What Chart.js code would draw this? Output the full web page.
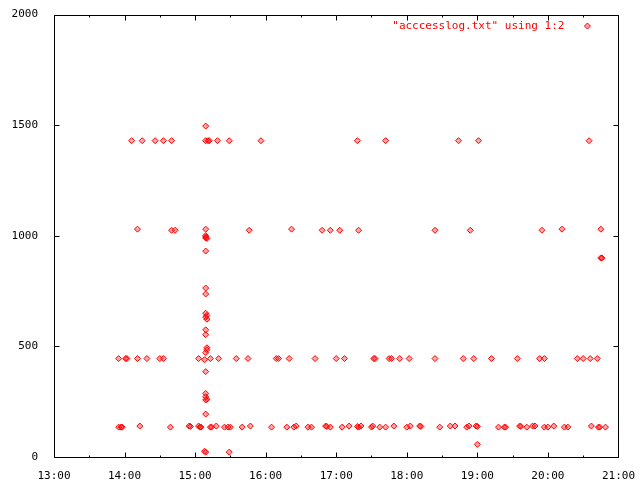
<!DOCTYPE html>
<html><head><meta charset="utf-8">
<script src="https://cdn.jsdelivr.net/npm/chart.js@4/dist/chart.umd.min.js"></script>
<style>html,body{margin:0;padding:0;background:#fff}#wrap{width:640px;height:480px}</style>
</head><body><div id="wrap"><canvas id="c" width="640" height="480"></canvas></div>
<script>
const seriesLabel = '"acccesslog.txt" using 1:2';
const xTickLabels = ['13:00','14:00','15:00','16:00','17:00','18:00','19:00','20:00','21:00'];
const yTickValues = [0, 500, 1000, 1500, 2000];

// band near 1430
const timesTop = ['14:06','14:15','14:26','14:33','14:40','15:09','15:11','15:12','15:19','15:29','15:56','17:18','17:42','18:44','19:01','20:35','15:09'];
const valuesTop = [1430,1430,1430,1430,1430,1430,1430,1430,1430,1430,1430,1430,1430,1430,1430,1430,1496];

// band near 1025
const timesK = ['14:11','14:40','14:43','15:09','15:46','16:22','16:48','16:55','17:03','17:19','18:24','18:54','19:55','20:12','20:45','20:45','20:46'];
const valuesK = [1030,1025,1025,1030,1025,1030,1025,1025,1025,1025,1025,1025,1025,1030,1030,900,900];

// vertical cluster around 15:09
const timesV = ['15:09','15:09','15:09','15:10','15:09','15:09','15:09','15:09','15:10','15:09','15:10','15:09','15:09','15:10','15:10','15:09','15:09','15:09','15:09','15:10','15:09','15:09','15:08','15:09','15:29','19:00'];
const valuesV = [1001,995,990,988,931,764,737,650,640,632,623,575,553,494,485,472,386,287,272,261,258,194,26,22,22,57];

// band near 445
const timesM = ['13:55','14:01','14:02','14:11','14:19','14:30','14:33','15:03','15:08','15:13','15:20','15:35','15:45','16:09','16:11','16:20','16:42','17:00','17:07','17:32','17:33','17:45','17:47','17:54','18:02','18:24','18:48','18:57','19:12','19:34','19:53','19:57','20:25','20:30','20:36','20:42'];
const valuesM = [445,445,445,445,445,445,445,445,440,445,445,445,445,445,445,445,445,445,445,445,445,445,445,445,445,445,445,445,445,445,445,445,445,445,445,445];

// band near 135
const timesB = ['13:55','13:57','13:58','14:13','14:39','14:55','14:56','15:03','15:04','15:05','15:13','15:14','15:18','15:25','15:28','15:30','15:40','15:47','16:05','16:18','16:24','16:26','16:36','16:39','16:51','16:52','16:55','17:05','17:11','17:18','17:19','17:21','17:30','17:31','17:37','17:42','17:49','18:00','18:03','18:11','18:12','18:28','18:37','18:41','18:51','18:53','18:59','19:00','19:18','19:23','19:24','19:36','19:37','19:42','19:47','19:49','19:57','20:00','20:05','20:14','20:17','20:37','20:43','20:44','20:49'];
const valuesB = [135,135,135,140,135,140,138,140,135,135,135,135,140,135,135,135,135,140,135,135,135,140,135,135,140,138,135,135,140,138,135,140,135,140,135,135,140,135,140,140,138,135,140,140,135,140,140,138,135,135,135,140,138,135,140,140,135,135,140,135,135,140,135,135,135];

function toMin(t){ const p = t.split(':'); return (+p[0])*60 + (+p[1]); }
function pts(ts, vs){ return ts.map((t,i)=>({x:toMin(t), y:vs[i]})); }
const allPoints = [].concat(pts(timesTop,valuesTop), pts(timesK,valuesK), pts(timesV,valuesV), pts(timesM,valuesM), pts(timesB,valuesB));

const RED = '#ff0000';
const FONT = {family:'"DejaVu Sans Mono", monospace', size:11};
const xMin = toMin(xTickLabels[0]), xMax = toMin(xTickLabels[xTickLabels.length-1]);

const framePlugin = {
  id:'frame',
  afterDatasetsDraw(chart){
    const ctx = chart.ctx, a = chart.chartArea;
    const xs = chart.scales.x, ys = chart.scales.y;
    ctx.save();
    ctx.strokeStyle = '#000'; ctx.lineWidth = 1;
    ctx.beginPath();
    const L = Math.round(a.left)+0.5, R = Math.round(a.right)+0.5, T = Math.round(a.top)+0.5, B = Math.round(a.bottom)+0.5;
    ctx.rect(L, T, R-L, B-T);
    for (let v = xMin; v <= xMax; v += 30){
      const px = Math.round(xs.getPixelForValue(v)) + 0.5;
      const len = (v % 60 === 0) ? 5 : 2;
      ctx.moveTo(px, B); ctx.lineTo(px, B-len);
      ctx.moveTo(px, T); ctx.lineTo(px, T+len);
    }
    yTickValues.forEach(v=>{
      const py = Math.round(ys.getPixelForValue(v)) + 0.5;
      ctx.moveTo(L, py); ctx.lineTo(L+5, py);
      ctx.moveTo(R, py); ctx.lineTo(R-5, py);
    });
    ctx.stroke();
    // key
    ctx.font = FONT.size + 'px ' + FONT.family;
    ctx.fillStyle = RED; ctx.textAlign = 'right'; ctx.textBaseline = 'middle';
    const ky = Math.round(a.top) + 11;
    ctx.fillText(chart.data.datasets[0].label, a.right - 54, ky);
    ctx.strokeStyle = RED;
    ctx.fillStyle = 'rgba(255,0,0,0.35)';
    Chart.helpers.drawPoint(ctx, {pointStyle:'rectRot', radius:3, borderWidth:1, rotation:0}, a.right - 31, ky);
    ctx.restore();
  }
};

new Chart(document.getElementById('c'), {
  type:'scatter',
  data:{datasets:[{
    label: seriesLabel,
    data: allPoints,
    pointStyle:'rectRot',
    pointRadius:3,
    pointBorderWidth:1,
    borderColor:RED,
    backgroundColor:'rgba(255,0,0,0.35)',
    pointHoverRadius:3
  }]},
  options:{
    responsive:false, animation:false, devicePixelRatio:1,
    layout:{padding:{left:0, right:20, top:13, bottom:0}},
    plugins:{legend:{display:false}, tooltip:{enabled:false}},
    scales:{
      x:{
        type:'linear', min:xMin, max:xMax,
        grid:{display:false}, border:{display:false},
        afterBuildTicks(s){ const t=[]; for(let v=xMin; v<=xMax; v+=60) t.push({value:v}); s.ticks = t; },
        afterFit(s){ s.height = 23; },
        ticks:{
          autoSkip:false, maxRotation:0, color:'#000', font:FONT, padding:5,
          callback(v){ const i = Math.round((v - xMin)/60); return xTickLabels[i] || ''; }
        }
      },
      y:{
        type:'linear', min:yTickValues[0], max:yTickValues[yTickValues.length-1],
        grid:{display:false}, border:{display:false},
        afterBuildTicks(s){ s.ticks = yTickValues.map(v=>({value:v})); },
        afterFit(s){ s.width = 54; },
        ticks:{color:'#000', font:FONT, padding:8, callback(v){ return String(v); }}
      }
    }
  },
  plugins:[framePlugin]
});
</script></body></html>
